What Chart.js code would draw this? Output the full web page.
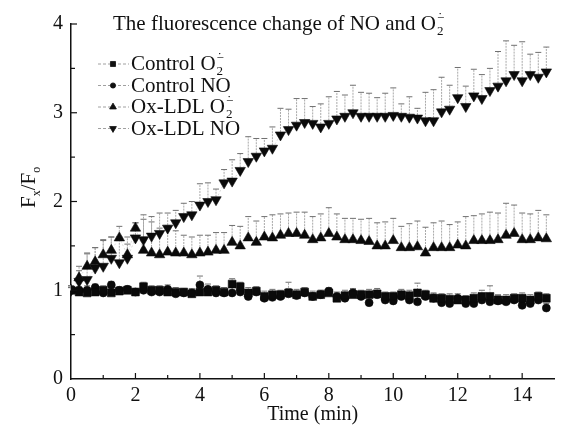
<!DOCTYPE html>
<html>
<head>
<meta charset="utf-8">
<script src="https://cdn.jsdelivr.net/npm/chart.js@4.4.1/dist/chart.umd.min.js"></script>
<style>
  html, body { margin: 0; padding: 0; background: #fff; }
  #wrap { width: 561px; height: 431px; }
</style>
</head>
<body>
<div id="wrap"><canvas id="chart"></canvas></div>
<script>
// Time points (min)
const times = [0, 0.25, 0.5, 0.75, 1, 1.25, 1.5, 1.75, 2, 2.25,
    2.5, 2.75, 3, 3.25, 3.5, 3.75, 4, 4.25, 4.5, 4.75,
    5, 5.25, 5.5, 5.75, 6, 6.25, 6.5, 6.75, 7, 7.25,
    7.5, 7.75, 8, 8.25, 8.5, 8.75, 9, 9.25, 9.5, 9.75,
    10, 10.25, 10.5, 10.75, 11, 11.25, 11.5, 11.75, 12, 12.25,
    12.5, 12.75, 13, 13.25, 13.5, 13.75, 14, 14.25, 14.5, 14.75];

// Control O2.-
const ctrlO2 = [1.00, 0.98, 0.97, 0.98, 1.00, 0.97, 0.99, 1.00, 0.98, 1.04,
    1.00, 1.00, 0.98, 0.98, 0.98, 0.96, 0.98, 0.98, 1.00, 0.98,
    1.07, 1.04, 0.97, 0.99, 0.93, 0.95, 0.95, 0.97, 0.95, 0.98,
    0.93, 0.95, 0.97, 0.91, 0.94, 0.95, 0.95, 0.95, 0.96, 0.93,
    0.93, 0.95, 0.94, 0.97, 0.95, 0.91, 0.91, 0.90, 0.89, 0.89,
    0.91, 0.93, 0.93, 0.89, 0.89, 0.91, 0.91, 0.89, 0.93, 0.91];
const ctrlO2Err = [0.03, 0.05, 0.06, 0.05, 0.05, 0.05, 0.04, 0.05, 0.04, 0.05,
    0.05, 0.05, 0.05, 0.05, 0.04, 0.05, 0.06, 0.06, 0.05, 0.05,
    0.06, 0.05, 0.06, 0.05, 0.06, 0.06, 0.05, 0.05, 0.06, 0.05,
    0.06, 0.05, 0.04, 0.06, 0.06, 0.06, 0.05, 0.06, 0.06, 0.05,
    0.05, 0.06, 0.06, 0.11, 0.05, 0.06, 0.05, 0.06, 0.05, 0.05,
    0.06, 0.07, 0.12, 0.06, 0.06, 0.05, 0.06, 0.06, 0.05, 0.05];

// Control NO
const ctrlNO = [1.00, 1.00, 1.00, 1.03, 0.97, 1.06, 1.00, 1.01, 0.98, 1.00,
    0.98, 0.98, 1.01, 0.96, 0.97, 0.97, 1.06, 1.01, 0.97, 0.97,
    0.97, 0.98, 0.93, 0.98, 0.91, 0.92, 0.93, 0.96, 0.94, 0.97,
    0.93, 0.95, 0.99, 0.93, 0.91, 0.97, 0.93, 0.86, 0.95, 0.89,
    0.88, 0.93, 0.89, 0.87, 0.93, 0.91, 0.86, 0.85, 0.91, 0.85,
    0.85, 0.89, 0.87, 0.88, 0.87, 0.89, 0.83, 0.85, 0.89, 0.80];
const ctrlNOErr = [0.03, 0.04, 0.05, 0.04, 0.06, 0.04, 0.04, 0.03, 0.04, 0.04,
    0.04, 0.05, 0.05, 0.04, 0.05, 0.05, 0.10, 0.06, 0.04, 0.04,
    0.06, 0.05, 0.05, 0.05, 0.05, 0.05, 0.06, 0.13, 0.05, 0.05,
    0.04, 0.05, 0.04, 0.05, 0.06, 0.05, 0.05, 0.06, 0.05, 0.06,
    0.05, 0.05, 0.05, 0.06, 0.05, 0.05, 0.06, 0.05, 0.05, 0.05,
    0.06, 0.06, 0.05, 0.06, 0.05, 0.05, 0.06, 0.05, 0.05, 0.05];

// Ox-LDL O2.-
const oxO2 = [1.00, 1.14, 1.27, 1.32, 1.40, 1.45, 1.59, 1.40, 1.70, 1.45,
    1.42, 1.40, 1.43, 1.42, 1.42, 1.40, 1.42, 1.43, 1.45, 1.45,
    1.54, 1.50, 1.59, 1.54, 1.60, 1.59, 1.62, 1.64, 1.64, 1.62,
    1.57, 1.59, 1.64, 1.60, 1.57, 1.57, 1.56, 1.55, 1.50, 1.50,
    1.56, 1.48, 1.48, 1.49, 1.42, 1.48, 1.48, 1.48, 1.51, 1.50,
    1.56, 1.56, 1.56, 1.57, 1.62, 1.64, 1.57, 1.57, 1.59, 1.58];
const oxO2Err = [0.05, 0.13, 0.14, 0.16, 0.17, 0.15, 0.13, 0.12, 0.06, 0.35,
    0.35, 0.30, 0.30, 0.25, 0.20, 0.20, 0.20, 0.19, 0.20, 0.20,
    0.19, 0.22, 0.24, 0.24, 0.23, 0.26, 0.24, 0.23, 0.24, 0.26,
    0.26, 0.27, 0.29, 0.26, 0.24, 0.24, 0.24, 0.26, 0.26, 0.27,
    0.25, 0.24, 0.27, 0.29, 0.29, 0.28, 0.30, 0.26, 0.26, 0.33,
    0.28, 0.30, 0.32, 0.30, 0.36, 0.32, 0.30, 0.29, 0.31, 0.27];

// Ox-LDL NO
const oxNO = [1.00, 1.10, 1.12, 1.25, 1.27, 1.36, 1.31, 1.36, 1.59, 1.57,
    1.61, 1.64, 1.70, 1.76, 1.83, 1.85, 1.96, 2.00, 2.02, 2.21,
    2.23, 2.35, 2.45, 2.51, 2.57, 2.60, 2.75, 2.81, 2.86, 2.89,
    2.88, 2.84, 2.88, 2.93, 2.96, 3.00, 2.96, 2.96, 2.96, 2.96,
    2.97, 2.96, 2.95, 2.94, 2.91, 2.91, 3.01, 3.04, 3.17, 3.07,
    3.19, 3.16, 3.25, 3.30, 3.36, 3.43, 3.36, 3.43, 3.40, 3.46];
const oxNOErr = [0.05, 0.12, 0.30, 0.23, 0.29, 0.24, 0.29, 0.24, 0.17, 0.28,
    0.22, 0.23, 0.17, 0.14, 0.15, 0.15, 0.24, 0.21, 0.12, 0.15,
    0.24, 0.19, 0.28, 0.20, 0.14, 0.24, 0.30, 0.23, 0.30, 0.27,
    0.19, 0.26, 0.30, 0.31, 0.24, 0.31, 0.27, 0.26, 0.21, 0.26,
    0.31, 0.14, 0.23, 0.11, 0.32, 0.35, 0.39, 0.27, 0.34, 0.23,
    0.30, 0.27, 0.25, 0.39, 0.45, 0.33, 0.44, 0.23, 0.28, 0.28];

const seriesLabels = ['Control O₂˙⁻', 'Control NO', 'Ox-LDL O₂˙⁻', 'Ox-LDL NO'];
const chartTitle = 'The fluorescence change of NO and O₂˙⁻';
const xTitle = 'Time (min)';

const FONT = "'Liberation Serif', 'Times New Roman', serif";

function toPoints(values) {
    return values.map((v, i) => ({ x: times[i], y: v }));
}

function makeSet(label, values, errors, style, radius, rotation) {
    return {
        label: label,
        data: toPoints(values),
        errors: errors,
        showLine: true,
        borderColor: 'rgba(0,0,0,0.2)',
        borderWidth: 0.7,
        borderDash: [2, 2],
        pointStyle: style,
        pointRadius: radius,
        pointRotation: rotation,
        pointBackgroundColor: '#0a0a0a',
        pointBorderColor: '#0a0a0a',
        pointBorderWidth: 0.6
    };
}

// draws text where "₂˙⁻" becomes a stacked subscript 2 / superscript radical anion
function drawRich(ctx, text, x, y, size) {
    const parts = text.split('₂˙⁻');
    ctx.font = size + 'px ' + FONT;
    ctx.fillText(parts[0], x, y);
    if (parts.length > 1) {
        const w = ctx.measureText(parts[0]).width;
        const s = Math.round(size * 0.62);
        ctx.font = s + 'px ' + FONT;
        ctx.fillText('2', x + w + 1, y + size * 0.22);
        ctx.fillText('−', x + w + 1, y - size * 0.36);
        ctx.fillText('˙', x + w + 2, y - size * 0.42);
    }
}

// upper error bars, drawn below the markers
const errorBars = {
    id: 'errorBars',
    beforeDatasetsDraw(chart) {
        const { ctx, scales: { x, y } } = chart;
        ctx.save();
        chart.data.datasets.forEach(ds => {
            ds.data.forEach((p, i) => {
                const e = ds.errors[i];
                const px = x.getPixelForValue(p.x);
                const y0 = y.getPixelForValue(p.y);
                const y1 = y.getPixelForValue(p.y + e);
                ctx.strokeStyle = '#a8a8a8';
                ctx.lineWidth = 1;
                ctx.setLineDash([2, 1]);
                ctx.beginPath();
                ctx.moveTo(px, y0);
                ctx.lineTo(px, y1);
                ctx.stroke();
                ctx.setLineDash([]);
                ctx.strokeStyle = '#707070';
                ctx.beginPath();
                ctx.moveTo(px - 3, y1);
                ctx.lineTo(px + 3, y1);
                ctx.stroke();
            });
        });
        ctx.restore();
    }
};

// inward tick marks, title, legend and y axis label
const decorations = {
    id: 'decorations',
    afterDraw(chart) {
        const { ctx, scales: { x, y }, chartArea } = chart;
        ctx.save();
        ctx.strokeStyle = '#111';
        ctx.lineWidth = 1.2;
        for (let t = 1; t < 15; t++) {
            const px = x.getPixelForValue(t);
            const len = t % 2 === 0 ? 6 : 4;
            ctx.beginPath();
            ctx.moveTo(px, chartArea.bottom);
            ctx.lineTo(px, chartArea.bottom - len);
            ctx.stroke();
        }
        for (let v = 0.5; v <= 4; v += 0.5) {
            const py = y.getPixelForValue(v);
            const len = v % 1 === 0 ? 6 : 4;
            ctx.beginPath();
            ctx.moveTo(chartArea.left, py);
            ctx.lineTo(chartArea.left + len, py);
            ctx.stroke();
        }

        ctx.fillStyle = '#111';
        ctx.textAlign = 'left';
        ctx.textBaseline = 'alphabetic';
        drawRich(ctx, chartTitle, 113, 30, 21);

        // legend
        chart.data.datasets.forEach((ds, i) => {
            const base = 70 + i * 21.5;
            const my = base - 6;
            ctx.strokeStyle = '#888';
            ctx.lineWidth = 0.8;
            ctx.setLineDash([3, 2]);
            ctx.beginPath();
            ctx.moveTo(98, my);
            ctx.lineTo(129, my);
            ctx.stroke();
            ctx.setLineDash([]);
            ctx.fillStyle = '#111';
            ctx.strokeStyle = '#111';
            Chart.helpers.drawPoint(ctx, {
                pointStyle: ds.pointStyle,
                radius: ds.pointRadius * 0.65,
                rotation: ds.pointRotation,
                borderWidth: 0.5
            }, 113, my);
            ctx.fillStyle = '#111';
            ctx.textAlign = 'left';
            drawRich(ctx, ds.label, 131, base, 21);
        });

        // y axis label F_x / F_o
        ctx.save();
        ctx.translate(35, 188);
        ctx.rotate(-Math.PI / 2);
        ctx.fillStyle = '#111';
        ctx.textAlign = 'left';
        let cx = -20;
        const pieces = [['F', 21, 0], ['x', 12, 5], ['/F', 21, 0], ['o', 12, 5]];
        pieces.forEach(([txt, size, dy]) => {
            ctx.font = size + 'px ' + FONT;
            ctx.fillText(txt, cx, dy);
            cx += ctx.measureText(txt).width;
        });
        ctx.restore();

        ctx.restore();
    }
};

const ctx = document.getElementById('chart').getContext('2d');
new Chart(ctx, {
    type: 'scatter',
    data: {
        datasets: [
            makeSet(seriesLabels[0], ctrlO2, ctrlO2Err, 'rect', 5.5, 0),
            makeSet(seriesLabels[1], ctrlNO, ctrlNOErr, 'circle', 4, 0),
            makeSet(seriesLabels[2], oxO2, oxO2Err, 'triangle', 6, 0),
            makeSet(seriesLabels[3], oxNO, oxNOErr, 'triangle', 6, 180)
        ]
    },
    options: {
        responsive: true,
        maintainAspectRatio: false,
        animation: false,
        layout: { padding: { top: 24, right: 3, left: 0, bottom: 0 } },
        plugins: {
            legend: { display: false },
            tooltip: { enabled: false }
        },
        scales: {
            x: {
                type: 'linear',
                min: 0,
                max: 15,
                afterFit: (scale) => { scale.height = 52; },
                grid: { display: false, drawTicks: false },
                border: { display: true, color: '#111', width: 1.5 },
                ticks: {
                    stepSize: 1,
                    padding: 5,
                    color: '#111',
                    font: { family: FONT, size: 20 },
                    callback: (v) => (v % 2 === 0 && v < 15 ? v : '')
                },
                title: {
                    display: true,
                    text: xTitle,
                    color: '#111',
                    font: { family: FONT, size: 20 },
                    padding: { top: 0, bottom: 4 }
                }
            },
            y: {
                min: 0,
                max: 4,
                afterFit: (scale) => { scale.width = 71; },
                grid: { display: false, drawTicks: false },
                border: { display: true, color: '#111', width: 1.5 },
                ticks: {
                    stepSize: 0.5,
                    padding: 8,
                    color: '#111',
                    font: { family: FONT, size: 20 },
                    callback: (v) => (v % 1 === 0 ? v : '')
                }
            }
        }
    },
    plugins: [errorBars, decorations]
});
</script>
</body>
</html>
